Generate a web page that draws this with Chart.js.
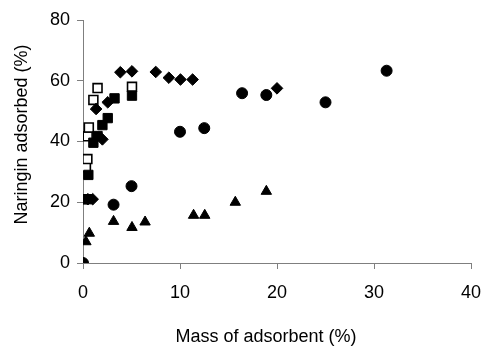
<!DOCTYPE html>
<html>
<head>
<meta charset="utf-8">
<script src="https://cdn.jsdelivr.net/npm/chart.js@4"></script>
<style>
  html, body { margin: 0; padding: 0; background: #fff; }
  #wrap { width: 481px; height: 349px; }
</style>
</head>
<body>
<div id="wrap"><canvas id="chart" width="481" height="349"></canvas></div>
<script>
// values, mass of adsorbent (%) vs naringin adsorbed (%)
const diamondX = [0.5, 1.0, 1.35, 2.0, 2.55, 3.85, 5.05, 7.5, 8.85, 10.05, 11.3, 20];
const diamondY = [21, 21, 50.7, 40.7, 52.9, 62.8, 63.1, 62.9, 61, 60.4, 60.4, 57.5];

const circleX = [0, 3.15, 5.0, 10.0, 12.5, 16.4, 18.9, 25.0, 31.3];
const circleY = [0, 19.2, 25.3, 43.2, 44.4, 55.9, 55.3, 52.9, 63.3];

const triangleX = [0, 0.3, 0.65, 3.15, 5.05, 6.4, 11.4, 12.55, 15.7, 18.9];
const triangleY = [0, 7, 9.8, 13.7, 11.7, 13.5, 15.7, 15.7, 20, 23.6];

const squareX = [0, 0.4, 0.55, 1.07, 1.5, 2.0, 2.55, 3.25, 5.05];
const squareY = [21, 21, 29, 39.6, 41.8, 45.4, 47.7, 54.2, 55.1];

const openSquareX = [0.3, 0.45, 0.48, 0.6, 1.07, 1.5, 5.05];
const openSquareY = [31.5, 34.2, 41.7, 44.6, 53.7, 57.6, 58];

const xTicks = [0, 10, 20, 30, 40];
const yTicks = [0, 20, 40, 60, 80];

const font = { family: "'Liberation Sans', Arial, sans-serif", size: 18 };
const axisGrey = "#7f7f7f";

function points(xs, ys) {
  return xs.map((x, i) => ({ x: x, y: ys[i] }));
}

function series(xs, ys, style, radius, fill) {
  return {
    data: points(xs, ys),
    pointStyle: style,
    pointRadius: radius,
    backgroundColor: fill,
    borderColor: "#000",
    borderWidth: fill === "#fff" ? 1.6 : 1,
    showLine: false
  };
}

const axisTitles = {
  id: "axisTitles",
  afterDraw(chart) {
    const { ctx, chartArea } = chart;
    ctx.save();
    ctx.fillStyle = "#000";
    ctx.font = `${font.size}px ${font.family}`;
    ctx.textAlign = "center";
    ctx.textBaseline = "middle";
    ctx.fillText("Mass of adsorbent (%)", (chartArea.left + chartArea.right) / 2 - 11, 337);
    ctx.translate(22, (chartArea.top + chartArea.bottom) / 2 - 7);
    ctx.rotate(-Math.PI / 2);
    ctx.fillText("Naringin adsorbed (%)", 0, 0);
    ctx.restore();
  }
};

new Chart(document.getElementById("chart"), {
  type: "scatter",
  data: {
    datasets: [
      series(diamondX, diamondY, "rectRot", 5.8, "#000"),
      series(circleX, circleY, "circle", 5.5, "#000"),
      series(triangleX, triangleY, "triangle", 6, "#000"),
      series(squareX, squareY, "rect", 6.6, "#000"),
      series(openSquareX, openSquareY, "rect", 6.3, "#fff")
    ]
  },
  options: {
    responsive: false,
    animation: false,
    layout: { padding: { left: 0, right: 10, top: 20, bottom: 0 } },
    plugins: { legend: { display: false }, tooltip: { enabled: false } },
    scales: {
      x: {
        type: "linear",
        min: 0,
        max: 40,
        afterBuildTicks: s => { s.ticks = xTicks.map(v => ({ value: v })); },
        afterFit: s => { s.height = 86; s.paddingLeft = 0; s.paddingRight = 0; },
        ticks: { font: font, color: "#000", padding: 13, maxRotation: 0 },
        grid: { drawOnChartArea: false, drawTicks: true, tickLength: 6, color: axisGrey },
        border: { color: axisGrey, width: 1 }
      },
      y: {
        min: 0,
        max: 80,
        afterBuildTicks: s => { s.ticks = yTicks.map(v => ({ value: v })); },
        afterFit: s => { s.width = 83; s.paddingTop = 0; s.paddingBottom = 0; },
        ticks: { font: font, color: "#000", padding: 7 },
        grid: { drawOnChartArea: false, drawTicks: true, tickLength: 6, color: axisGrey },
        border: { color: axisGrey, width: 1 }
      }
    }
  },
  plugins: [axisTitles]
});
</script>
</body>
</html>
